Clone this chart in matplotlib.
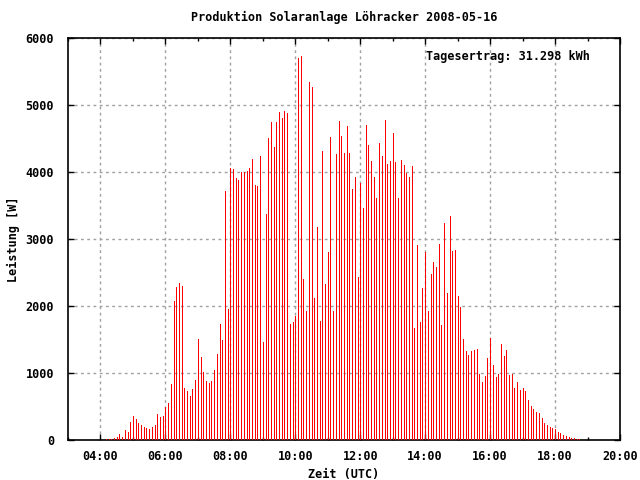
import matplotlib
matplotlib.use("Agg")
import matplotlib.pyplot as plt
import matplotlib.dates as mdates
import pandas as pd

title = "Produktion Solaranlage Löhracker 2008-05-16"
total_label = "Tagesertrag: 31.298 kWh"
start_time = "2008-05-16 04:10"
interval = "5min"

power_w = [
    15, 15, 15, 35, 50, 90, 50, 150, 120, 270, 360, 315, 255, 225, 195, 180, 165, 195, 225, 390,
    345, 360, 495, 550, 835, 2075, 2285, 2345,
    2300, 775, 730, 655, 760, 895, 1505, 1240, 1015, 880, 850, 880, 1045, 1285, 1730, 1495, 3715,
    1955, 4060, 4045, 3910, 3880, 4000, 4000, 4015, 4060, 4195, 3805, 3790, 4240,
    1465, 3375, 4510, 4745, 4375, 4745, 4895, 4805, 4910, 4880, 1730, 1760, 1850, 5700, 5730, 2405,
    1925, 5345, 5270, 2120, 3180, 1775, 4315, 2330, 2810, 4520, 1925, 4270, 4760, 4530, 4285,
    4685, 4285, 3745, 3925, 2430, 3835, 3465, 4700, 4400, 4160, 3925, 3610, 4430, 4240, 4775, 4120,
    4160, 4580, 4150, 3610, 4180, 4105, 3985, 3925, 4090, 1670, 2910, 1760, 2270, 2805, 1925,
    2485, 2655, 2585, 2925, 1715, 3240, 2195, 3345, 2820, 2835, 2150, 1985, 1505, 1330, 1270, 1330,
    1345, 1360, 990, 865, 955, 1225, 1520, 1120, 940, 985, 1435, 1255, 1345, 970, 985,
    775, 865, 745, 775, 730, 595, 505, 465, 420, 405, 330, 255, 225, 195, 180, 165, 120, 105, 75,
    60, 45, 30, 30, 15, 15,
]
y_ticks = [0, 1000, 2000, 3000, 4000, 5000, 6000]
x_start = "2008-05-16 03:00"
x_end = "2008-05-16 20:00"

times = pd.date_range(start=start_time, periods=len(power_w), freq=interval)

font = {"family": "DejaVu Sans Mono", "weight": "bold", "size": 8.5}
plt.rcParams["font.family"] = "DejaVu Sans Mono"
plt.rcParams["font.weight"] = "bold"
plt.rcParams["font.size"] = 8.5

fig = plt.figure(figsize=(6.4, 4.8), dpi=100)
ax = fig.add_axes([68 / 640, 1 - 440 / 480, 552 / 640, 402 / 480])

ax.vlines(times, 0, power_w, colors="#ff0000", linewidth=0.72, antialiased=False, zorder=3)

ax.set_xlim(pd.Timestamp(x_start), pd.Timestamp(x_end))
ax.set_ylim(0, 6000)
ax.set_yticks(y_ticks)

ax.xaxis.set_major_locator(mdates.HourLocator(byhour=range(0, 24, 2)))
ax.xaxis.set_minor_locator(mdates.HourLocator())
ax.xaxis.set_major_formatter(mdates.DateFormatter("%H:%M"))

ax.tick_params(axis="both", which="both", direction="in", top=True, right=True, width=1)
ax.tick_params(axis="both", which="major", length=4)
ax.tick_params(axis="both", which="minor", length=2.5)
ax.tick_params(axis="x", which="major", pad=7)
ax.tick_params(axis="y", which="major", pad=10)

ax.grid(True, which="major", color="#a0a0a0", linestyle=(0, (2, 2.5)), linewidth=1, zorder=1)
ax.set_axisbelow(True)
for s in ax.spines.values():
    s.set_linewidth(1.2)

ax.set_title(title, fontdict=font, pad=12)
ax.set_xlabel("Zeit (UTC)", fontdict=font, labelpad=4)
ax.set_ylabel("Leistung [W]", fontdict=font, labelpad=4)
ax.text(0.648, 0.955, total_label, transform=ax.transAxes, ha="left", va="center", fontdict=font)

fig.savefig("out.png", dpi=100)
